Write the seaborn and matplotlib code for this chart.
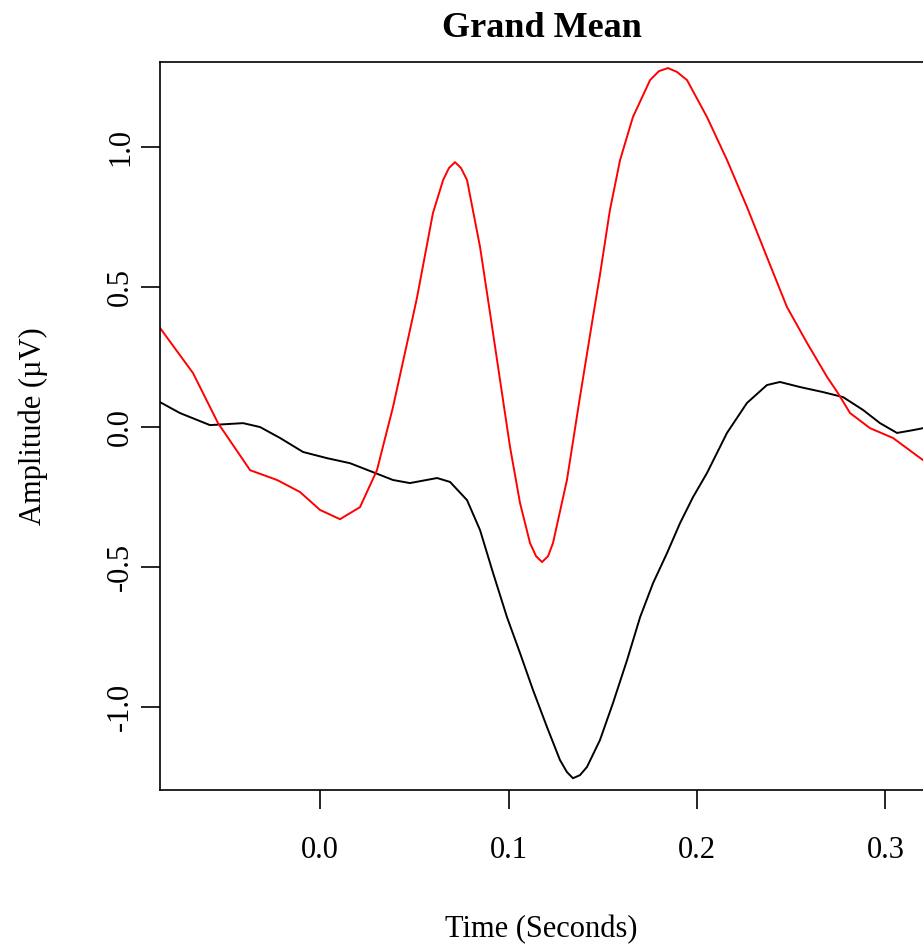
import numpy as np
import pandas as pd
import seaborn as sns
import matplotlib
matplotlib.use("Agg")
import matplotlib.pyplot as plt

# grand mean ERP (seconds, microvolts)
red_time = [-0.0849, -0.0674, -0.0541, -0.0371, -0.0228, -0.0106, 0.0, 0.0106, 0.0212,
            0.0302, 0.0387, 0.0477, 0.0515, 0.0599, 0.0653, 0.0684, 0.0716, 0.0748,
            0.0780, 0.0849, 0.0902, 0.0955, 0.1008, 0.1061, 0.1114, 0.1146, 0.1178,
            0.1210, 0.1236, 0.1310, 0.1379, 0.1448, 0.1485, 0.1538, 0.1592, 0.1660,
            0.1751, 0.1798, 0.1846, 0.1894, 0.1947, 0.2053, 0.2159, 0.2265, 0.2371,
            0.2477, 0.2584, 0.2690, 0.2748, 0.2812, 0.2918, 0.3040, 0.3199]
red_amp = [0.354, 0.193, 0.014, -0.154, -0.189, -0.232, -0.296, -0.329, -0.286,
           -0.154, 0.071, 0.346, 0.464, 0.764, 0.882, 0.925, 0.946, 0.925,
           0.882, 0.643, 0.407, 0.168, -0.071, -0.271, -0.414, -0.461, -0.482,
           -0.461, -0.414, -0.189, 0.107, 0.393, 0.543, 0.775, 0.954, 1.107,
           1.239, 1.271, 1.282, 1.268, 1.239, 1.107, 0.954, 0.786, 0.607,
           0.429, 0.300, 0.179, 0.121, 0.050, -0.004, -0.039, -0.118]

black_time = [-0.0849, -0.0743, -0.0584, -0.0408, -0.0318, -0.0212, -0.0090, 0.0037,
              0.0159, 0.0281, 0.0387, 0.0477, 0.0621, 0.0690, 0.0780, 0.0849, 0.0918,
              0.0992, 0.1061, 0.1130, 0.1204, 0.1273, 0.1310, 0.1342, 0.1379, 0.1416,
              0.1485, 0.1554, 0.1629, 0.1698, 0.1767, 0.1841, 0.1910, 0.1979, 0.2053,
              0.2159, 0.2265, 0.2371, 0.2440, 0.2546, 0.2668, 0.2775, 0.2881, 0.2971,
              0.3061, 0.3146, 0.3199]
black_amp = [0.089, 0.050, 0.007, 0.014, 0.000, -0.039, -0.089, -0.111,
             -0.129, -0.161, -0.189, -0.200, -0.182, -0.196, -0.261, -0.368, -0.521,
             -0.679, -0.807, -0.939, -1.071, -1.189, -1.232, -1.254, -1.243, -1.214,
             -1.118, -0.986, -0.832, -0.679, -0.557, -0.450, -0.343, -0.250, -0.164,
             -0.021, 0.086, 0.150, 0.161, 0.143, 0.125, 0.107, 0.061, 0.014,
             -0.021, -0.011, -0.004]

x_ticks = [0.0, 0.1, 0.2, 0.3]
y_ticks = [-1.0, -0.5, 0.0, 0.5, 1.0]

sns.set_style("white")
plt.rcParams['font.family'] = ['Liberation Serif', 'DejaVu Serif']
plt.rcParams['text.color'] = 'black'
plt.rcParams['axes.labelcolor'] = 'black'
plt.rcParams['xtick.color'] = 'black'
plt.rcParams['ytick.color'] = 'black'

W, H = 923, 947
fig = plt.figure(figsize=(W / 100, H / 100), dpi=100)
ax = fig.add_axes([160 / W, 1 - 790 / H, 1 - 160 / W, (790 - 62) / H])

sns.lineplot(x=black_time, y=black_amp, color="black", linewidth=1.4, ax=ax)
sns.lineplot(x=red_time, y=red_amp, color="red", linewidth=1.4, ax=ax)

ax.set_xlim(-0.0849, 0.3199)
ax.set_ylim(-1.296, 1.3036)
ax.set_xticks(x_ticks)
ax.set_xticklabels([f"{v:.1f}" for v in x_ticks])
ax.set_yticks(y_ticks)
ax.set_yticklabels([f"{v:.1f}" for v in y_ticks], rotation=90, va="center")

for s in ["left", "bottom", "top"]:
    ax.spines[s].set_color("black")
    ax.spines[s].set_linewidth(1.2)
ax.spines["right"].set_visible(False)

ax.tick_params(axis="both", direction="out", length=14, width=1.2, color="black",
               labelcolor="black", labelsize=22, left=True, bottom=True)
ax.tick_params(axis="x", pad=19)
ax.tick_params(axis="y", pad=4)

ax.set_xlabel("Time (Seconds)", fontsize=22, labelpad=36)
ax.set_ylabel("Amplitude (\u00b5V)", fontsize=22, labelpad=42, color="black")
ax.set_title("Grand Mean", fontsize=26, fontweight="bold", pad=18, color="black")

fig.savefig("out.png", dpi=100)
